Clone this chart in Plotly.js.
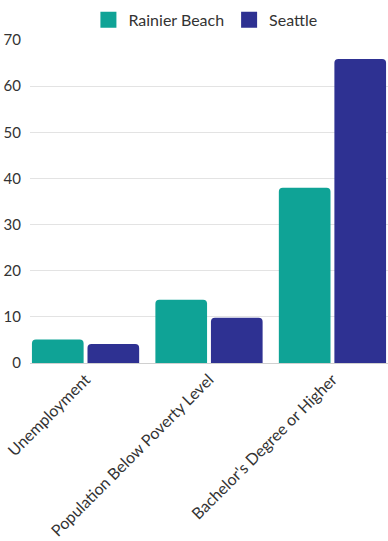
<!DOCTYPE html>
<html>
<head>
<meta charset="utf-8">
<script src="https://cdn.plot.ly/plotly-3.0.1.min.js"></script>
<style>html,body{margin:0;padding:0;background:#fff;}#chart{width:388px;height:541px;}</style>
</head>
<body>
<div id="chart"></div>
<script>
var categories = ["Unemployment", "Population Below Poverty Level", "Bachelor's Degree or Higher"];
var rainierBeach = [5.1, 13.7, 38.0];
var seattle = [4.1, 9.8, 65.9];
var seriesNames = ["Rainier Beach", "Seattle"];
var yTicks = [0, 10, 20, 30, 40, 50, 60, 70];

var colors = ["#0FA396", "#2E3192"];
var FONT = "Lato, 'Open Sans', sans-serif";

var traces = [
  {type: "bar", name: seriesNames[0], x: categories, y: rainierBeach, marker: {color: colors[0], cornerradius: 4}, showlegend: false, hoverinfo: "y"},
  {type: "bar", name: seriesNames[1], x: categories, y: seattle, marker: {color: colors[1], cornerradius: 4}, showlegend: false, hoverinfo: "y"},
  {type: "scatter", mode: "markers", name: seriesNames[0], x: [null], y: [null], marker: {symbol: "square", size: 16, color: colors[0]}, showlegend: true},
  {type: "scatter", mode: "markers", name: seriesNames[1], x: [null], y: [null], marker: {symbol: "square", size: 16, color: colors[1]}, showlegend: true}
];

var layout = {
  width: 388, height: 541,
  margin: {l: 30, r: 0, t: 40, b: 178},
  paper_bgcolor: "#fff", plot_bgcolor: "#fff",
  font: {family: FONT, color: "#333", size: 14},
  barmode: "group",
  bargap: 0.1,
  bargroupgap: 0.07,
  showlegend: true,
  legend: {orientation: "h", x: 0.49, xanchor: "center", y: 1.01, yanchor: "bottom", font: {size: 16, color: "#333"}, traceorder: "normal"},
  xaxis: {
    type: "category",
    range: [-0.45, 2.45],
    tickangle: -45,
    showgrid: false,
    showline: true, linecolor: "#d0d0d0", linewidth: 1,
    ticks: "", tickfont: {size: 16, color: "#333"},
    fixedrange: true
  },
  yaxis: {
    range: [0, 70],
    tickvals: yTicks,
    showgrid: true, gridcolor: "#e3e3e3", gridwidth: 1,
    zeroline: false,
    showline: false,
    ticks: "", ticklabelstandoff: 8,
    tickfont: {size: 15, color: "#333"},
    fixedrange: true
  }
};

Plotly.newPlot("chart", traces, layout, {displayModeBar: false, staticPlot: true});
</script>
</body>
</html>
